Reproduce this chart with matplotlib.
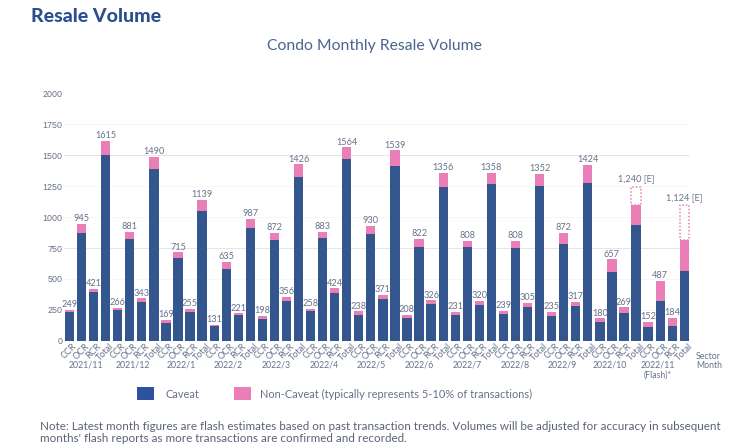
import matplotlib
matplotlib.use("Agg")
import matplotlib.pyplot as plt
from matplotlib.patches import Rectangle

plt.rcParams['font.family'] = ['Lato', 'DejaVu Sans']

months = ['2021/11', '2021/12', '2022/1', '2022/2', '2022/3', '2022/4', '2022/5',
          '2022/6', '2022/7', '2022/8', '2022/9', '2022/10', '2022/11\n(Flash)*']
sectors = ['CCR', 'OCR', 'RCR', 'Total']
caveat = [229, 868, 391, 1502, 245, 820, 316, 1386, 146, 666, 232, 1052,
          119, 583, 205, 914, 178, 814, 324, 1324, 243, 831, 388, 1470,
          210, 860, 334, 1416, 186, 760, 294, 1246, 210, 755, 291, 1265,
          216, 752, 270, 1249, 202, 785, 280, 1278, 154, 558, 221, 938,
          113, 318, 121, 561]
non_caveat = [20, 77, 30, 113, 21, 61, 27, 104, 23, 49, 23, 87,
              12, 52, 16, 73, 20, 58, 32, 102, 15, 52, 36, 94,
              28, 70, 37, 123, 22, 62, 32, 110, 21, 53, 29, 93,
              23, 56, 35, 103, 33, 87, 37, 146, 26, 99, 48, 162,
              39, 169, 63, 253]
labels = ['249', '945', '421', '1615', '266', '881', '343', '1490',
          '169', '715', '255', '1139', '131', '635', '221', '987',
          '198', '872', '356', '1426', '258', '883', '424', '1564',
          '238', '930', '371', '1539', '208', '822', '326', '1356',
          '231', '808', '320', '1358', '239', '808', '305', '1352',
          '235', '872', '317', '1424', '180', '657', '269', '1,240 [E]',
          '152', '487', '184', '1,124 [E]']
estimate_total = {47: 1245, 51: 1095}
yticks = [0, 250, 500, 750, 1000, 1250, 1500, 1750, 2000]
strong_grid = [750, 1500]

NAVY = '#34568f'
PINK = '#e97fb6'
GREY = '#66718a'

W, H = 750, 447
fig = plt.figure(figsize=(W/100, H/100), dpi=100, facecolor='white')
y0_px, y2k_px = 340.7, 93.5
ax_l, ax_r = 64, 690
ax = fig.add_axes([ax_l/W, 1-y0_px/H, (ax_r-ax_l)/W, (y0_px-y2k_px)/H])
ax.set_ylim(0, 2000)
sp = 12.054
ax.set_xlim((ax_l-69.5)/sp, (ax_r-69.5)/sp)

x = list(range(len(caveat)))
ax.bar(x, caveat, width=0.77, color=NAVY, zorder=3, linewidth=0)
ax.bar(x, non_caveat, bottom=caveat, width=0.77, color=PINK, zorder=3, linewidth=0)

for i, v in estimate_total.items():
    base = caveat[i] + non_caveat[i]
    ax.add_patch(Rectangle((i-0.385, base), 0.77, v-base, fill=False, edgecolor=PINK,
                           linestyle=(0, (1, 1.3)), linewidth=1.1, zorder=3))

for i, lab in enumerate(labels):
    top = estimate_total.get(i, caveat[i] + non_caveat[i])
    off = 30 if i in estimate_total else 6
    ax.text(i, top + off, lab, ha='center', va='bottom', fontsize=6.6, color=GREY, zorder=4)

ax.set_yticks(yticks)
ax.tick_params(axis='y', length=0, pad=1)
for t in ax.get_yticklabels():
    t.set_fontsize(6.4)
    t.set_color(GREY)
    t.set_fontfamily('Liberation Sans')
ax.set_xticks(x)
ax.set_xticklabels([sectors[i % 4] for i in x], rotation=45, ha='center',
                   fontsize=6.5, color=GREY)
ax.tick_params(axis='x', length=0, pad=1)
ax.grid(axis='y', linewidth=0.7, zorder=0)
for val, line in zip(yticks, ax.get_ygridlines()):
    line.set_color('#e6e6e9' if val in strong_grid else '#f6f6f8')
ax.set_axisbelow(True)
for s in ax.spines.values():
    s.set_visible(False)

for m, month in enumerate(months):
    cx = 1.33 + 3.957*m
    ax.text(cx, -(360-340.7)/(y0_px-y2k_px), month, ha='center', va='top', fontsize=6.3,
            color=GREY, transform=ax.get_xaxis_transform(), linespacing=1.25)

fig.text(696/W, 1-356.7/H, 'Sector', fontsize=6.3, color=GREY, ha='left', va='center')
fig.text(696/W, 1-365.7/H, 'Month', fontsize=6.3, color=GREY, ha='left', va='center')

fig.text(31/W, 1-17/H, 'Resale Volume', fontsize=14, fontweight=900, color='#2c4f8f', ha='left', va='center')
fig.text(374/W, 1-46/H, 'Condo Monthly Resale Volume', fontsize=11.3, color='#4a6490', ha='center', va='center')

fig.add_artist(Rectangle((137/W, 1-400/H), 17/W, 13/H, transform=fig.transFigure, color='#2f52a0', lw=0))
fig.add_artist(Rectangle((233.5/W, 1-400/H), 17/W, 13/H, transform=fig.transFigure, color=PINK, lw=0))
fig.text(166/W, 1-394/H, 'Caveat', fontsize=7.9, color=GREY, ha='left', va='center')
fig.text(260/W, 1-394/H, 'Non-Caveat (typically represents 5-10% of transactions)', fontsize=7.9, color=GREY, ha='left', va='center')

fig.text(40/W, 1-426.5/H, 'Note: Latest month figures are flash estimates based on past transaction trends. Volumes will be adjusted for accuracy in subsequent',
         fontsize=8.35, color='#5a6374', ha='left', va='center')
fig.text(40/W, 1-439/H, "months' flash reports as more transactions are confirmed and recorded.",
         fontsize=8.35, color='#5a6374', ha='left', va='center')

fig.savefig('out.png', dpi=100)
